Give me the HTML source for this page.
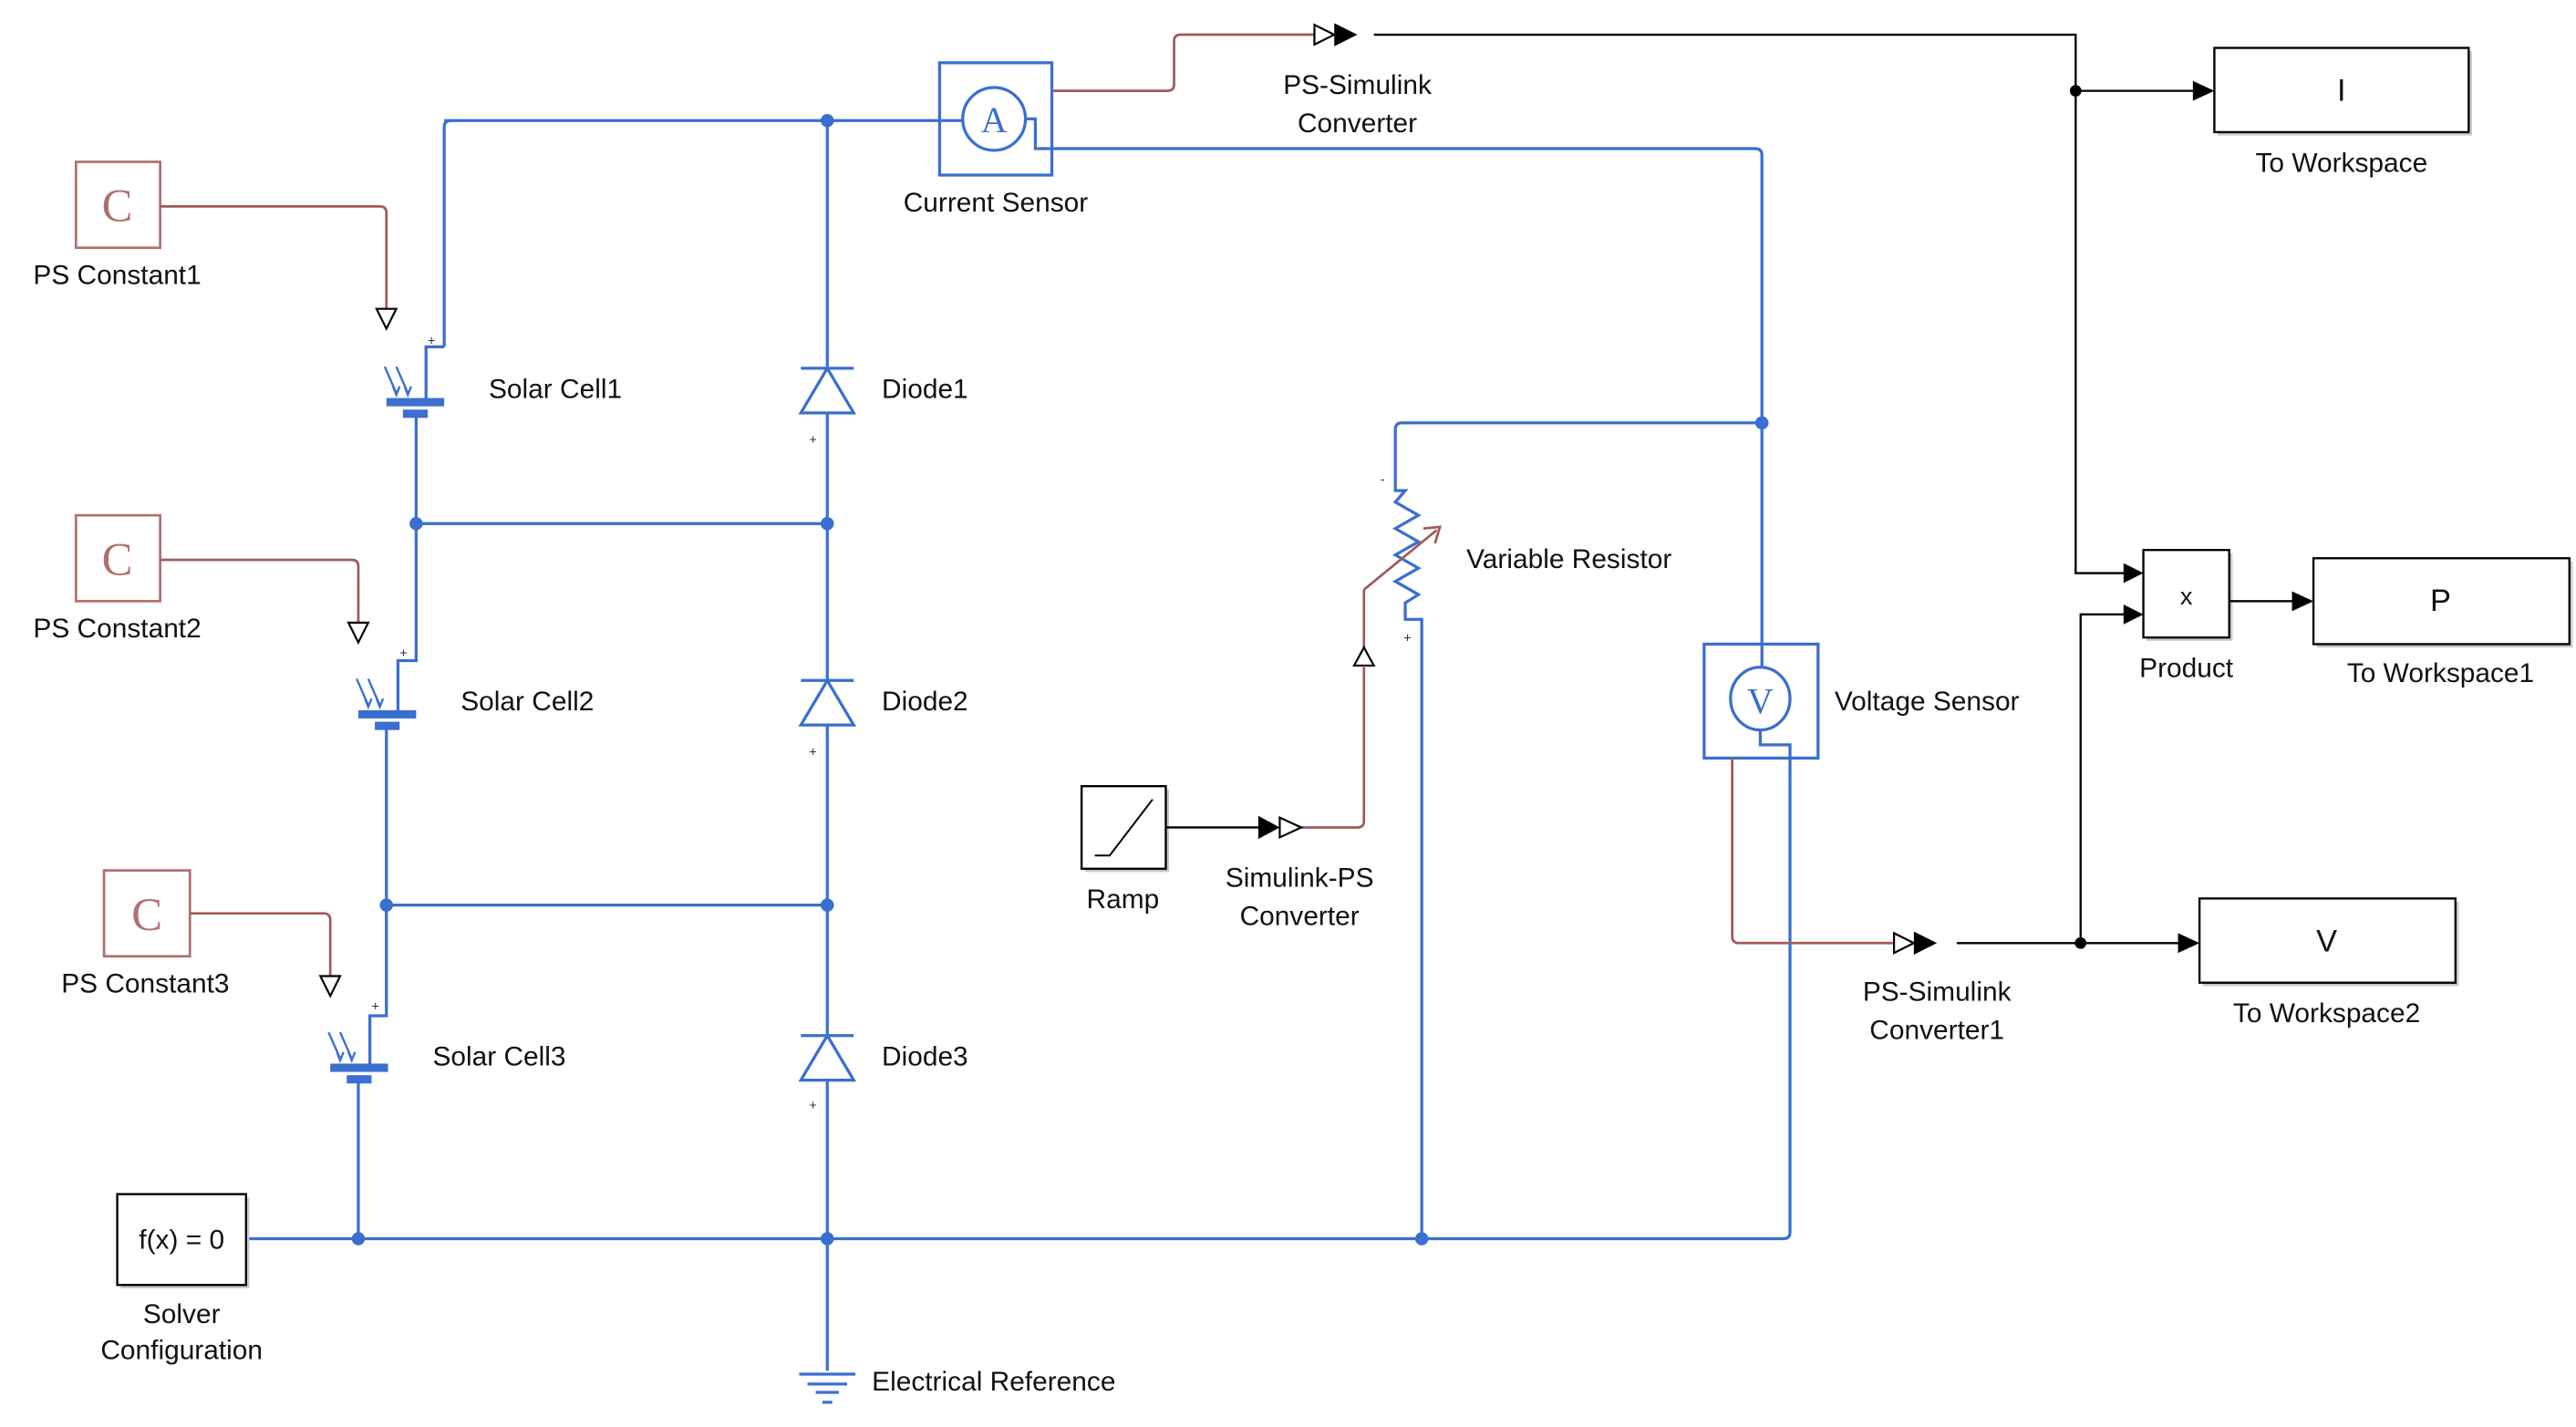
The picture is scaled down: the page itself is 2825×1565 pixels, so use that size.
<!DOCTYPE html>
<html><head><meta charset="utf-8"><style>
html,body{margin:0;padding:0;background:#fff;}
svg{display:block;}
text{font-family:"Liberation Sans",Arial,sans-serif;font-size:16.5px;fill:#111;}
.b{stroke:#3a6fcf;stroke-width:1.8;fill:none;}
.r{stroke:#a05a5a;stroke-width:1.5;fill:none;}
.k{stroke:#000;stroke-width:1.3;fill:none;}
.blk{fill:#fff;stroke:#000;stroke-width:1.3;}
.sh{fill:#c8c8c8;}
.pc{fill:#fff;stroke:#b07070;stroke-width:1.5;}
.sm{font-size:8px;fill:#333;}
</style></head><body>
<svg width="2825" height="1565" viewBox="0 0 1560 864" preserveAspectRatio="none" xmlns="http://www.w3.org/2000/svg">
<!-- PS constants -->
<rect class="pc" x="46" y="98" width="51" height="52"/><text x="71" y="134" text-anchor="middle" style="font-size:28px;fill:#b07070;font-family:'Liberation Serif',serif">C</text>
<text x="71" y="172" text-anchor="middle">PS Constant1</text>
<rect class="pc" x="46" y="312" width="51" height="52"/><text x="71" y="348" text-anchor="middle" style="font-size:28px;fill:#b07070;font-family:'Liberation Serif',serif">C</text>
<text x="71" y="386" text-anchor="middle">PS Constant2</text>
<rect class="pc" x="63" y="527" width="52" height="52"/><text x="89" y="563" text-anchor="middle" style="font-size:28px;fill:#b07070;font-family:'Liberation Serif',serif">C</text>
<text x="88" y="601" text-anchor="middle">PS Constant3</text>
<path class="r" d="M97 125 H230 Q234 125 234 129 V187"/>
<path class="r" d="M97 339 H213 Q217 339 217 343 V377"/>
<path class="r" d="M115 553 H196 Q200 553 200 557 V591"/>
<path d="M228 187 H240 L234 199 Z M211 377 H223 L217 389 Z M194 591 H206 L200 603 Z" fill="#fff" stroke="#000" stroke-width="1.2"/>
<!-- blue electrical network -->
<path class="b" d="M269 73 H569"/>
<path class="b" d="M269 210 V77 Q269 73 273 73"/>
<path class="b" d="M269 210 H258 V243"/>
<path class="b" d="M252 250 V317 H501"/>
<path class="b" d="M252 317 V400 H241 V432"/>
<path class="b" d="M234 439 V548 H501"/>
<path class="b" d="M234 548 V615 H224 V646"/>
<path class="b" d="M217 653 V750"/>
<path class="b" d="M501 73 V830"/>
<path class="b" d="M149 750 H1080 Q1084 750 1084 746 V470"/>
<path class="b" d="M621 72 H627 V90 H1063 Q1067 90 1067 94 V404"/>
<path class="b" d="M1067 256 H849 Q845 256 845 260 V297 H851 L845 304 L859 312 L845 320 L859 328 L845 336 L859 344 L845 352 L859 360 L851 365 V375 H861 V750"/>
<path class="b" d="M1066 441 V451 H1084 V470"/>
<!-- solar cells -->
<g fill="#3a6fcf">
<rect x="234" y="241" width="35" height="5"/><rect x="244" y="248" width="15" height="5"/>
<rect x="217" y="430" width="35" height="5"/><rect x="227" y="437" width="15" height="5"/>
<rect x="200" y="644" width="35" height="5"/><rect x="210" y="651" width="15" height="5"/>
</g>
<g class="b" style="stroke-width:1.3">
<path d="M233 222 L240 238 M240 222 L247 238 M238 234 L240 239 L242 234 M245 234 L247 239 L249 234"/>
<path d="M216 411 L223 427 M223 411 L230 427 M221 423 L223 428 L225 423 M228 423 L230 428 L232 423"/>
<path d="M199 625 L206 641 M206 625 L213 641 M204 637 L206 642 L208 637 M211 637 L213 642 L215 637"/>
</g>
<text x="296" y="241">Solar Cell1</text><text x="279" y="430">Solar Cell2</text><text x="262" y="645">Solar Cell3</text>
<text class="sm" x="259" y="209">+</text><text class="sm" x="242" y="398">+</text><text class="sm" x="225" y="612">+</text>
<!-- diodes -->
<g fill="#fff" stroke="#3a6fcf" stroke-width="1.8">
<path d="M501 223 L485 250 H517 Z"/><path d="M485 223 H517"/>
<path d="M501 412 L485 439 H517 Z"/><path d="M485 412 H517"/>
<path d="M501 627 L485 654 H517 Z"/><path d="M485 627 H517"/>
</g>
<text x="534" y="241">Diode1</text><text x="534" y="430">Diode2</text><text x="534" y="645">Diode3</text>
<text class="sm" x="490" y="269">+</text><text class="sm" x="490" y="458">+</text><text class="sm" x="490" y="672">+</text>
<!-- junction dots -->
<g fill="#3a6fcf">
<circle cx="501" cy="73" r="4"/><circle cx="252" cy="317" r="4"/><circle cx="501" cy="317" r="4"/>
<circle cx="234" cy="548" r="4"/><circle cx="501" cy="548" r="4"/><circle cx="217" cy="750" r="4"/>
<circle cx="501" cy="750" r="4"/><circle cx="861" cy="750" r="4"/><circle cx="1067" cy="256" r="4"/>
</g>
<!-- ground -->
<path class="b" d="M484 832 H518 M489 838 H513 M494 843 H508 M498 849 H504"/>
<text x="528" y="842">Electrical Reference</text>
<!-- solver -->
<rect class="sh" x="73" y="725" width="78" height="55"/>
<rect class="blk" x="71" y="723" width="78" height="55"/>
<text x="110" y="756" text-anchor="middle">f(x) = 0</text>
<text x="110" y="801" text-anchor="middle">Solver</text><text x="110" y="823" text-anchor="middle">Configuration</text>
<!-- current sensor -->
<rect x="569" y="38" width="68" height="68" fill="none" stroke="#3a6fcf" stroke-width="1.8"/>
<circle cx="602" cy="72" r="19" fill="#fff" stroke="#3a6fcf" stroke-width="1.8"/>
<text x="602" y="80" text-anchor="middle" style="font-size:22px;fill:#3a6fcf;font-family:'Liberation Serif',serif">A</text>
<path class="b" d="M569 73 H583"/>
<text x="603" y="128" text-anchor="middle">Current Sensor</text>
<!-- PS-Simulink converter top -->
<path class="r" d="M637 55 H707 Q711 55 711 51 V25 Q711 21 715 21 H796"/>
<path d="M796 15 L808 21 L796 27 Z" fill="#fff" stroke="#000" stroke-width="1.2"/>
<path d="M808 14 L822 21 L808 28 Z" fill="#000"/>
<path class="k" d="M832 21 H1257 V347 H1290"/>
<path class="k" d="M1257 55 H1330"/><circle cx="1257" cy="55" r="3.5" fill="#000"/>
<path d="M1328 49 L1341 55 L1328 61 Z M1286 341 L1298 347 L1286 353 Z" fill="#000"/>
<text x="822" y="57" text-anchor="middle">PS-Simulink</text><text x="822" y="80" text-anchor="middle">Converter</text>
<!-- To Workspace -->
<rect class="sh" x="1343" y="31" width="154" height="51"/><rect class="blk" x="1341" y="29" width="154" height="51"/>
<text x="1418" y="61" text-anchor="middle" style="font-size:19px">I</text>
<text x="1418" y="104" text-anchor="middle">To Workspace</text>
<!-- Product -->
<rect class="sh" x="1300" y="335" width="52" height="53"/><rect class="blk" x="1298" y="333" width="52" height="53"/>
<text x="1324" y="366" text-anchor="middle" style="font-size:15px">x</text>
<text x="1324" y="410" text-anchor="middle">Product</text>
<path class="k" d="M1350 364 H1390 M1260 571 V372 H1290"/>
<path d="M1388 358 L1401 364 L1388 370 Z M1286 366 L1298 372 L1286 378 Z" fill="#000"/>
<rect class="sh" x="1403" y="340" width="155" height="52"/><rect class="blk" x="1401" y="338" width="155" height="52"/>
<text x="1478" y="370" text-anchor="middle" style="font-size:19px">P</text>
<text x="1478" y="413" text-anchor="middle">To Workspace1</text>
<!-- Variable resistor -->
<path class="r" d="M826 357 L870 321"/>
<path d="M862 320 L872 319 L869 329" fill="none" stroke="#a05a5a" stroke-width="1.5"/>
<path class="r" d="M826 357 V392"/>
<path d="M820 403 L826 392 L832 403 Z" fill="#fff" stroke="#000" stroke-width="1.2"/>
<path class="r" d="M826 403 V497 Q826 501 822 501 H788"/>
<text x="888" y="344">Variable Resistor</text>
<text class="sm" x="836" y="293">-</text><text class="sm" x="850" y="389">+</text>
<!-- Ramp -->
<rect class="sh" x="657" y="478" width="51" height="50"/><rect class="blk" x="655" y="476" width="51" height="50"/>
<path d="M663 518 H672 L698 484" fill="none" stroke="#000" stroke-width="1.1"/>
<text x="680" y="550" text-anchor="middle">Ramp</text>
<path class="k" d="M706 501 H764"/>
<path d="M762 494 L775 501 L762 508 Z" fill="#000"/>
<path d="M775 495 L788 501 L775 507 Z" fill="#fff" stroke="#000" stroke-width="1.2"/>
<text x="787" y="537" text-anchor="middle">Simulink-PS</text><text x="787" y="560" text-anchor="middle">Converter</text>
<!-- Voltage sensor -->
<rect x="1032" y="390" width="69" height="69" fill="none" stroke="#3a6fcf" stroke-width="1.8"/>
<ellipse cx="1066" cy="423" rx="18" ry="19" fill="#fff" stroke="#3a6fcf" stroke-width="1.8"/>
<text x="1066" y="432" text-anchor="middle" style="font-size:22px;fill:#3a6fcf;font-family:'Liberation Serif',serif">V</text>
<text x="1111" y="430">Voltage Sensor</text>
<path class="r" d="M1049 459 V567 Q1049 571 1053 571 H1147"/>
<path d="M1147 565 L1159 571 L1147 577 Z" fill="#fff" stroke="#000" stroke-width="1.2"/>
<path d="M1159 564 L1173 571 L1159 578 Z" fill="#000"/>
<path class="k" d="M1185 571 H1322"/><circle cx="1260" cy="571" r="3.5" fill="#000"/>
<path d="M1319 565 L1332 571 L1319 577 Z" fill="#000"/>
<text x="1173" y="606" text-anchor="middle">PS-Simulink</text><text x="1173" y="629" text-anchor="middle">Converter1</text>
<rect class="sh" x="1334" y="546" width="155" height="51"/><rect class="blk" x="1332" y="544" width="155" height="51"/>
<text x="1409" y="576" text-anchor="middle" style="font-size:19px">V</text>
<text x="1409" y="619" text-anchor="middle">To Workspace2</text>
</svg>
</body></html>
